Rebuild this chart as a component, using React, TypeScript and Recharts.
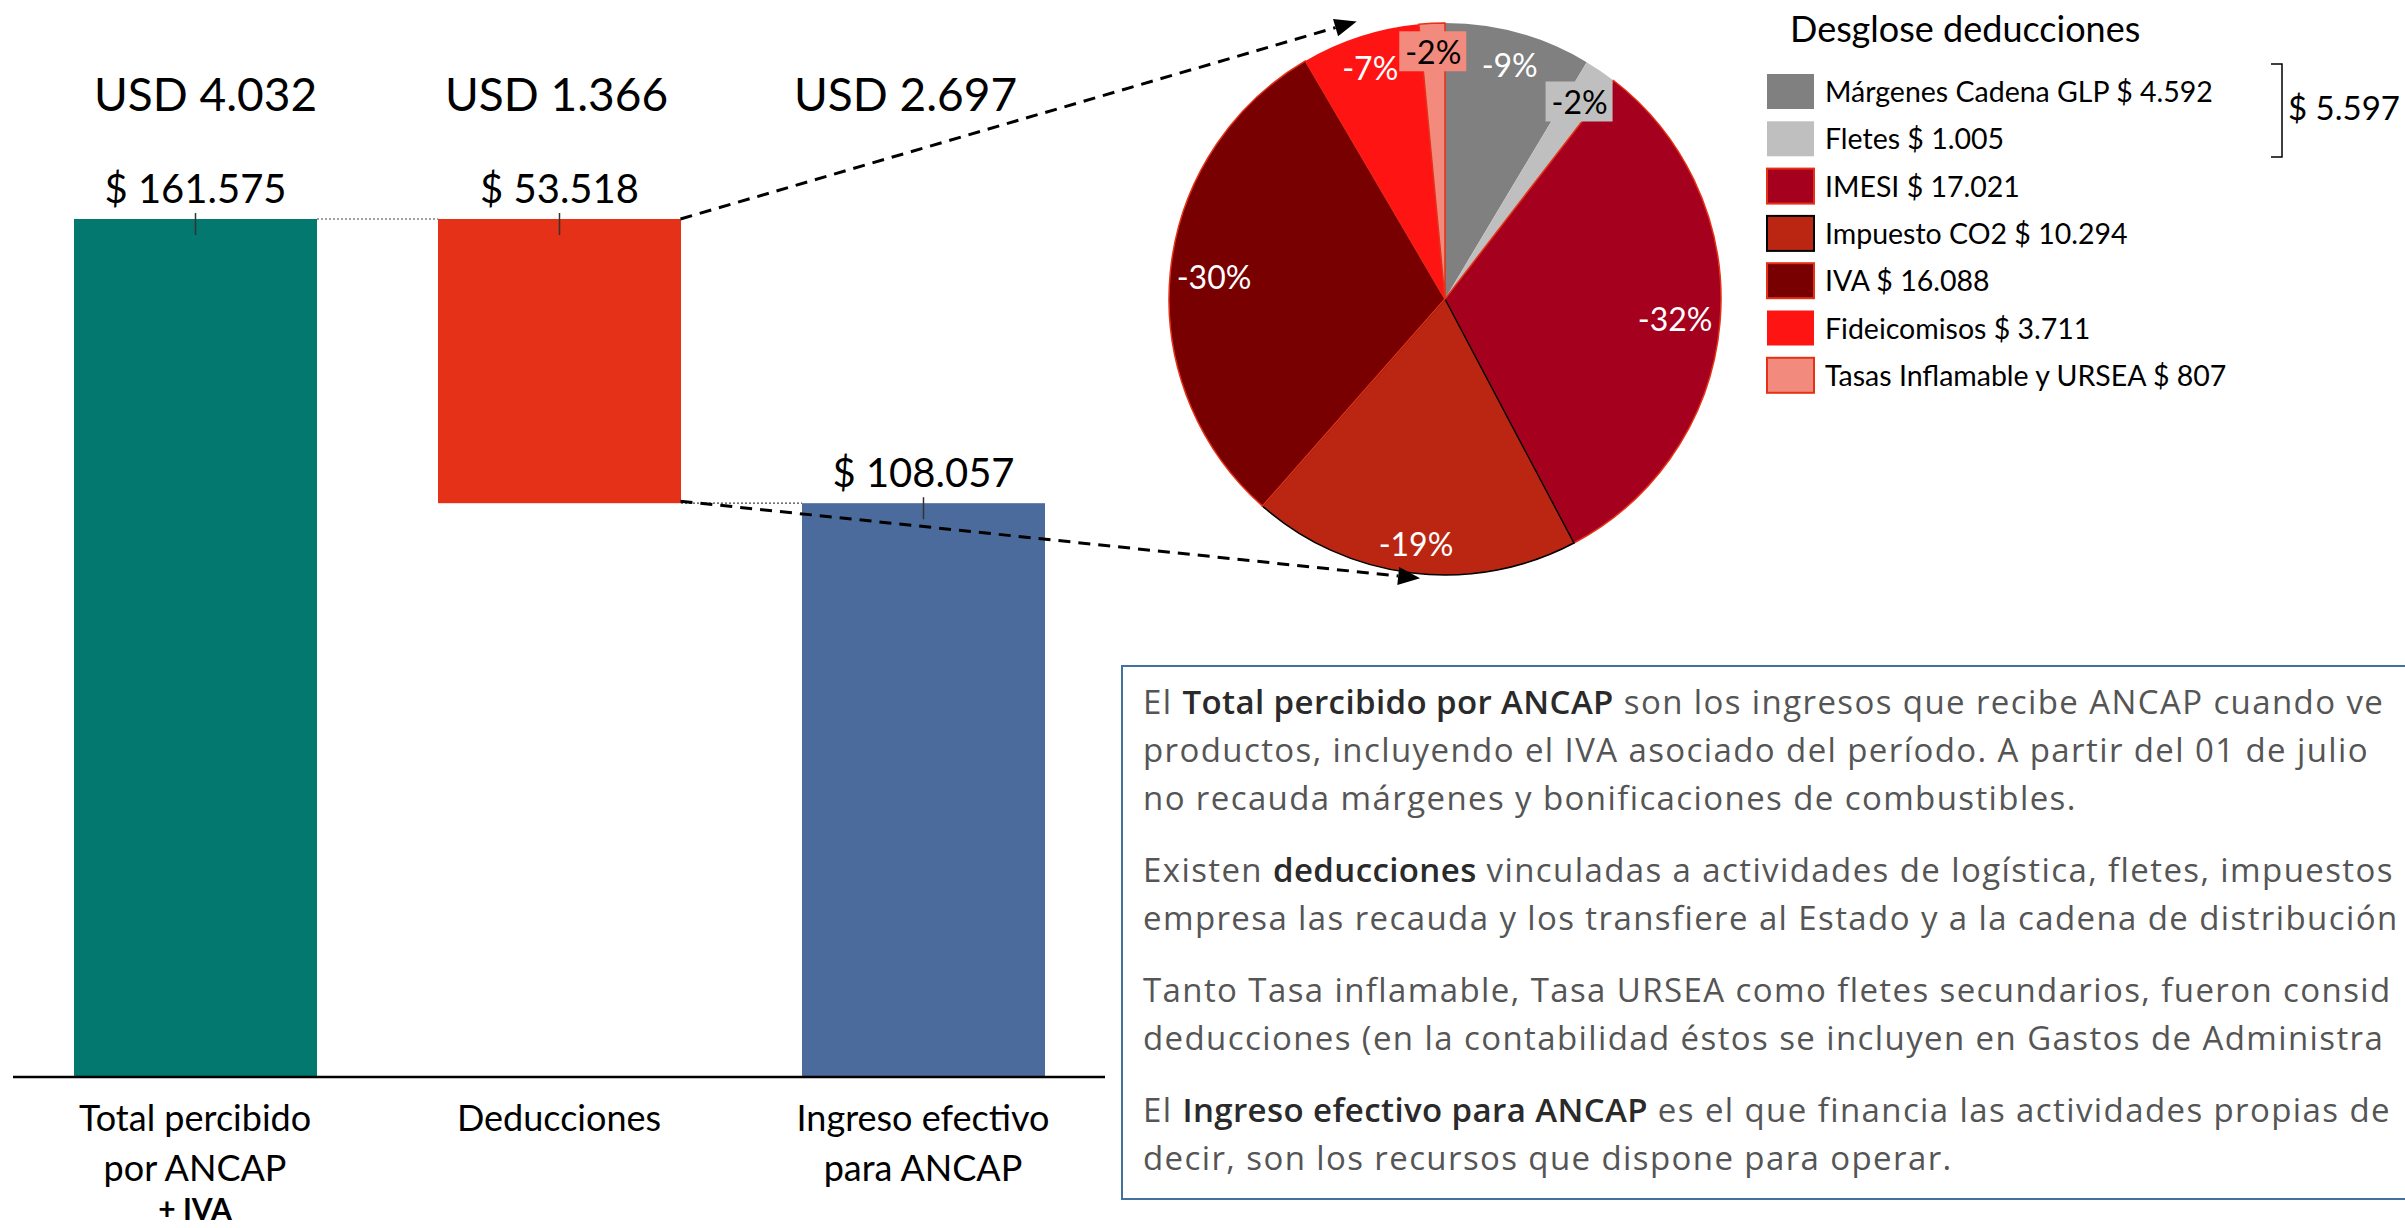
import React from "react";
import { Bar, BarChart, Cell, Pie, PieChart, XAxis, YAxis } from "recharts";

// waterfall: total, deductions, net (in millions of pesos)
const categories = ["Total percibido por ANCAP + IVA", "Deducciones", "Ingreso efectivo para ANCAP"];
const tickLines = [["Total percibido", "por ANCAP", "+ IVA"], ["Deducciones"], ["Ingreso efectivo", "para ANCAP"]];
const pesosValues = [161575, 53518, 108057];
const baseValues = [0, 108057, 0];
const usdValues = [4032, 1366, 2697];

// deductions breakdown
const deductionNames = [
  "Márgenes Cadena GLP",
  "Fletes",
  "IMESI",
  "Impuesto CO2",
  "IVA",
  "Fideicomisos",
  "Tasas Inflamable y URSEA",
];
const deductionValues = [4592, 1005, 17021, 10294, 16088, 3711, 807];

// note box text, as much as the slide shows before its right edge
const textParagraphs = [
  [
    [["El "], ["Total percibido por ANCAP", true], [" son los ingresos que recibe ANCAP cuando ve"]],
    [["productos, incluyendo el IVA asociado del período. A partir del 01 de julio"]],
    [["no recauda márgenes y bonificaciones de combustibles."]],
  ],
  [
    [["Existen "], ["deducciones", true], [" vinculadas a actividades de logística, fletes, impuestos"]],
    [["empresa las recauda y los transfiere al Estado y a la cadena de distribución"]],
  ],
  [
    [["Tanto Tasa inflamable, Tasa URSEA como fletes secundarios, fueron consid"]],
    [["deducciones (en la contabilidad éstos se incluyen en Gastos de Administra"]],
  ],
  [
    [["El "], ["Ingreso efectivo para ANCAP", true], [" es el que financia las actividades propias de"]],
    [["decir, son los recursos que dispone para operar."]],
  ],
] as [string, boolean?][][][];

const FONT = "Lato, 'Open Sans', sans-serif";
const BODY_FONT = "'Open Sans', Lato, sans-serif";
const barColors = ["#02786E", "#E53117", "#4A6B9B"];
const sliceColors = ["#808080", "#BFBFBF", "#A5001E", "#BB2612", "#780000", "#FF1414", "#F28A7D"];
const sliceStrokes = ["none", "none", "#E53117", "#000000", "#E53117", "none", "#E53117"];
const labelRadius = [243, 239, 231, 246, 232, 243, 248];
const usdDx = [10, -3, -18];

const W = 2405;
const H = 1228;
const PLOT_TOP = 219;
const PLOT_BOTTOM = 1077;
const PLOT_LEFT = 13;
const PLOT_RIGHT = 1105;
const BAR_CHART_W = 1110;
const BAR_SIZE = 243;
const AXIS_H = 140;
const BAND = (PLOT_RIGHT - PLOT_LEFT) / categories.length;
const USD_BASELINE = 111;

const PIE_LEFT = 1080;
const PIE_CX = 360;
const PIE_CY = 294;
const PIE_R = 276;

const fmt = (v: number) => String(v).replace(/\B(?=(\d{3})+(?!\d))/g, ".");

const barData = categories.map((name, i) => ({ name, base: baseValues[i], value: pesosValues[i] }));
const pieData = deductionNames.map((name, i) => ({ name, value: deductionValues[i] }));
const deductionTotal = deductionValues.reduce((a, b) => a + b, 0);

function WaterfallShape(props: any) {
  const { x, y, width, height, index } = props;
  const cx = x + width / 2;
  const gap = BAND - width;
  const connectY = index === 0 ? y : y + height;
  return (
    <g>
      <rect x={x} y={y} width={width} height={height} fill={barColors[index]} />
      <line x1={cx} x2={cx} y1={y - 6} y2={y + 16} stroke="#333" strokeWidth={1.5} />
      {index < categories.length - 1 && (
        <line
          x1={x + width}
          x2={x + width + gap}
          y1={connectY}
          y2={connectY}
          stroke="#444"
          strokeWidth={1.2}
          strokeDasharray="2 2"
        />
      )}
      <text x={cx} y={y - 16} textAnchor="middle" fontSize={40} fontFamily={FONT} fill="#000">
        $ {fmt(pesosValues[index])}
      </text>
      <text
        x={cx + usdDx[index]}
        y={USD_BASELINE}
        textAnchor="middle"
        fontSize={46}
        fontFamily={FONT}
        fill="#000"
      >
        USD {fmt(usdValues[index])}
      </text>
    </g>
  );
}

function CategoryTick(props: any) {
  const { x, index } = props;
  const lines = tickLines[index];
  const baselines = [PLOT_BOTTOM + 54, PLOT_BOTTOM + 104, PLOT_BOTTOM + 143];
  return (
    <g>
      {lines.map((l, i) => (
        <text
          key={i}
          x={x}
          y={baselines[i]}
          textAnchor="middle"
          fontFamily={FONT}
          fontSize={i === 2 ? 30 : 36}
          fontWeight={i === 2 ? 700 : 400}
          fill="#000"
        >
          {l}
        </text>
      ))}
    </g>
  );
}

function renderPieLabel(props: any) {
  const { cx, cy, midAngle, percent, index } = props;
  const rad = Math.PI / 180;
  const r = labelRadius[index];
  const lx = cx + r * Math.cos(-midAngle * rad);
  const ly = cy + r * Math.sin(-midAngle * rad);
  const txt = `-${Math.round(percent * 100)}%`;
  const boxed = deductionValues[index] / deductionTotal < 0.025;
  return (
    <g>
      {boxed && <rect x={lx - 34} y={ly - 20} width={67} height={40} fill={sliceColors[index]} />}
      <text
        x={lx}
        y={ly}
        textAnchor="middle"
        dominantBaseline="central"
        fontFamily={FONT}
        fontSize={32}
        fill={boxed ? "#000" : "#fff"}
      >
        {txt}
      </text>
    </g>
  );
}

function Arrow({ x1, y1, x2, y2 }: { x1: number; y1: number; x2: number; y2: number }) {
  const ang = Math.atan2(y2 - y1, x2 - x1);
  const len = 22;
  const half = 9;
  const bx = x2 - len * Math.cos(ang);
  const by = y2 - len * Math.sin(ang);
  const px = -Math.sin(ang) * half;
  const py = Math.cos(ang) * half;
  return (
    <g>
      <line x1={x1} y1={y1} x2={bx} y2={by} stroke="#000" strokeWidth={3} strokeDasharray="12 8" />
      <polygon points={`${x2},${y2} ${bx + px},${by + py} ${bx - px},${by - py}`} fill="#000" />
    </g>
  );
}

export default function App() {
  const yScale = (v: number) => PLOT_BOTTOM - (v / pesosValues[0]) * (PLOT_BOTTOM - PLOT_TOP);
  const redRight = PLOT_LEFT + BAND * 1.5 + BAR_SIZE / 2;
  const pcx = PIE_LEFT + PIE_CX;
  const tip = (deg: number) => ({
    x: pcx + (PIE_R + 9) * Math.sin((deg * Math.PI) / 180),
    y: PIE_CY - (PIE_R + 9) * Math.cos((deg * Math.PI) / 180),
  });
  const tipTop = tip(-17);
  const tipBottom = tip(184);

  const legendX = 1767;
  const legendTop = 74;
  const rowPitch = 47.3;

  const textX = 1143;
  let baseline = 714;
  const textRows: React.ReactNode[] = [];
  textParagraphs.forEach((para, pi) => {
    if (pi > 0) baseline += 24;
    para.forEach((line, li) => {
      textRows.push(
        <text key={`${pi}-${li}`} x={textX} y={baseline} fontFamily={BODY_FONT} fontSize={33} fill="#555">
          {line.map(([s, bold], k) => (
            <tspan
              key={k}
              fontWeight={bold ? 600 : 400}
              letterSpacing={bold ? 0.4 : 1.4}
              fill={bold ? "#2a2a2a" : "#555"}
            >
              {s}
            </tspan>
          ))}
        </text>
      );
      baseline += 48;
    });
  });

  return (
    <div
      style={{
        position: "fixed",
        left: 0,
        top: 0,
        width: W,
        height: H,
        overflow: "hidden",
        background: "#fff",
        fontFamily: FONT,
      }}
    >
      <div style={{ position: "absolute", left: 0, top: 0 }}>
        <BarChart
          width={BAR_CHART_W}
          height={H}
          data={barData}
          margin={{
            top: PLOT_TOP,
            right: BAR_CHART_W - PLOT_RIGHT,
            bottom: H - PLOT_BOTTOM - AXIS_H,
            left: PLOT_LEFT,
          }}
        >
          <YAxis hide width={0} type="number" domain={[0, pesosValues[0]]} />
          <XAxis
            dataKey="name"
            interval={0}
            height={AXIS_H}
            axisLine={{ stroke: "#000", strokeWidth: 2.5 }}
            tickLine={false}
            tick={<CategoryTick />}
          />
          <Bar dataKey="base" stackId="w" fill="none" barSize={BAR_SIZE} isAnimationActive={false} />
          <Bar
            dataKey="value"
            stackId="w"
            barSize={BAR_SIZE}
            shape={<WaterfallShape />}
            isAnimationActive={false}
          />
        </BarChart>
      </div>

      <div style={{ position: "absolute", left: PIE_LEFT, top: 0 }}>
        <PieChart width={720} height={620}>
          <Pie
            data={pieData}
            dataKey="value"
            nameKey="name"
            cx={PIE_CX}
            cy={PIE_CY}
            outerRadius={PIE_R}
            startAngle={90}
            endAngle={-270}
            label={renderPieLabel}
            labelLine={false}
            isAnimationActive={false}
          >
            {pieData.map((_, i) => (
              <Cell key={i} fill={sliceColors[i]} stroke={sliceStrokes[i]} strokeWidth={1.5} />
            ))}
          </Pie>
        </PieChart>
      </div>

      <div
        style={{
          position: "absolute",
          left: 1121,
          top: 665,
          width: 1400,
          height: 531,
          border: "2.5px solid #41719C",
        }}
      />

      <svg width={W} height={H} style={{ position: "absolute", left: 0, top: 0, pointerEvents: "none" }}>
        <Arrow x1={redRight} y1={yScale(pesosValues[0])} x2={tipTop.x} y2={tipTop.y} />
        <Arrow x1={redRight} y1={yScale(baseValues[1]) - 2} x2={tipBottom.x} y2={tipBottom.y} />

        <text x={1790} y={42} fontFamily={FONT} fontSize={36} fill="#000">
          Desglose deducciones
        </text>
        {deductionNames.map((n, i) => {
          const top = legendTop + i * rowPitch;
          return (
            <g key={n}>
              <rect
                x={legendX}
                y={top}
                width={47}
                height={35}
                fill={sliceColors[i]}
                stroke={sliceStrokes[i]}
                strokeWidth={2}
              />
              <text x={1825} y={top + 28} fontFamily={FONT} fontSize={28.5} fill="#000">
                {n} $ {fmt(deductionValues[i])}
              </text>
            </g>
          );
        })}
        <path d="M2271 64 H2282 V157 H2271" fill="none" stroke="#000" strokeWidth={1.5} />
        <text x={2288} y={120} fontFamily={FONT} fontSize={33} fill="#000">
          $ {fmt(deductionValues[0] + deductionValues[1])}
        </text>

        {textRows}
      </svg>
    </div>
  );
}
